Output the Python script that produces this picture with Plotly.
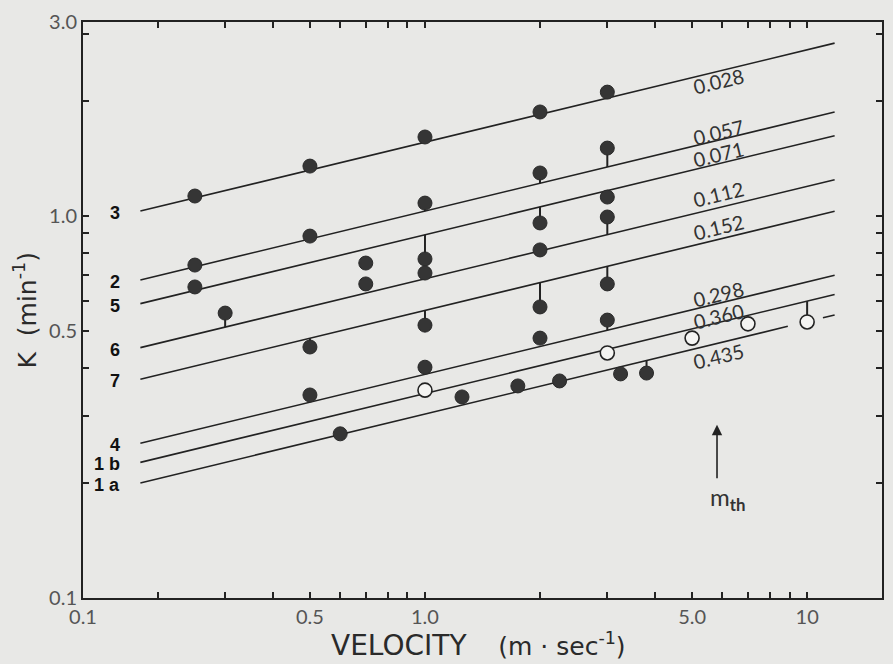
import math
import plotly.graph_objects as go

# ---------------- data ----------------
line_names = ["3", "2", "5", "6", "7", "4", "1 b", "1 a"]
line_m_labels = ["0.028", "0.057", "0.071", "0.112", "0.152", "0.298", "0.360", "0.435"]
line_k_at_1 = [1.56, 1.03, 0.893, 0.685, 0.566, 0.385, 0.343, 0.303]   # K at v = 1 m/s
line_slope = 0.242
line_v_start = 0.18
line_v_end = 11.8
line_1a_gap = [8.9, 11.0]
label_v = 5.85
label_yshift = [-10, 8, 10, 14, 13, 9, 7, -13]

filled_v = [0.25, 0.25, 0.25, 0.3, 0.5, 0.5, 0.5, 0.5, 0.6, 0.7, 0.7,
            1.0, 1.0, 1.0, 1.0, 1.0, 1.0, 1.25, 1.75,
            2.0, 2.0, 2.0, 2.0, 2.0, 2.0, 2.25,
            3.0, 3.0, 3.0, 3.0, 3.0, 3.0, 3.25, 3.8]
filled_k = [1.128, 0.744, 0.652, 0.557, 1.351, 0.886, 0.454, 0.340, 0.269, 0.753, 0.664,
            1.61, 1.081, 0.772, 0.709, 0.518, 0.402, 0.336, 0.359,
            1.872, 1.296, 0.959, 0.815, 0.578, 0.479, 0.370,
            2.11, 1.506, 1.121, 0.994, 0.664, 0.534, 0.386, 0.388]

open_v = [1.0, 3.0, 5.0, 7.0, 10.0]
open_k = [0.350, 0.438, 0.479, 0.522, 0.528]

tick_v = [0.3, 2.0, 1.0, 2.0, 1.0, 2.0, 1.0, 0.5, 3.0, 3.0, 3.0, 3.0, 3.8, 10.0]
tick_k = [0.557, 1.296, 1.081, 0.959, 0.772, 0.578, 0.518, 0.454, 1.506, 0.994, 0.664, 0.534, 0.388, 0.528]
tick_line = [3, 1, 1, 2, 2, 4, 4, 4, 1, 3, 4, 5, 7, 6]

x_range_v = [0.1274, 15.7]
y_range_k = [0.1, 3.22]
x_minor = [0.2, 0.3, 0.4, 0.6, 0.7, 0.8, 0.9, 2, 3, 4, 6, 7, 8, 9]
x_major = [x_range_v[0], 0.5, 1.0, 5.0, 10.0]
x_major_text = ["0.1", "0.5", "1.0", "5.0", "10"]
y_minor = [0.2, 0.3, 0.4, 0.6, 0.7, 0.8, 0.9, 2, 3]
y_major = [y_range_k[0], 0.5, 1.0, y_range_k[1]]
y_major_text = ["0.1", "0.5", "1.0", "3.0"]

arrow_v = 5.81
arrow_k = 0.284

# ---------------- figure ----------------
BG = "#e8e8e6"
INK = "#222222"
fig = go.Figure()


def line_k(i, v):
    return line_k_at_1[i] * v ** line_slope


for i, name in enumerate(line_names):
    if i == 7:
        segs = [(line_v_start, line_1a_gap[0]), (line_1a_gap[1], line_v_end)]
    else:
        segs = [(line_v_start, line_v_end)]
    xs, ys = [], []
    for a, b in segs:
        xs += [a, b, None]
        ys += [line_k(i, a), line_k(i, b), None]
    fig.add_trace(go.Scatter(x=xs, y=ys, mode="lines",
                             line=dict(color=INK, width=1.6),
                             hoverinfo="skip", showlegend=False))

# residual ticks
tx, ty = [], []
for v, k, li in zip(tick_v, tick_k, tick_line):
    tx += [v, v, None]
    ty += [k, line_k(li, v), None]
fig.add_trace(go.Scatter(x=tx, y=ty, mode="lines",
                         line=dict(color=INK, width=2),
                         hoverinfo="skip", showlegend=False))

fig.add_trace(go.Scatter(x=filled_v, y=filled_k, mode="markers",
                         marker=dict(size=14, color="#353535",
                                     line=dict(color="#2a2a2a", width=1)),
                         showlegend=False))
fig.add_trace(go.Scatter(x=open_v, y=open_k, mode="markers",
                         marker=dict(size=14, color="#f4f4f2",
                                     line=dict(color=INK, width=1.6)),
                         showlegend=False))

angle = -math.degrees(math.atan(line_slope))
for i, name in enumerate(line_names):
    fig.add_annotation(x=math.log10(line_v_start), y=math.log10(line_k(i, line_v_start)),
                       text="<b>%s</b>" % name, showarrow=False,
                       xanchor="right", yanchor="middle", xshift=-18, yshift=-2,
                       font=dict(family="Liberation Sans", size=18, color="#111"))
    fig.add_annotation(x=math.log10(label_v), y=math.log10(line_k(i, label_v)),
                       text=line_m_labels[i], showarrow=False, textangle=angle,
                       xanchor="center", yanchor="middle", yshift=label_yshift[i],
                       font=dict(family="Lato", size=20, color="#333"))

# m_th arrow
fig.add_annotation(x=math.log10(arrow_v), y=math.log10(arrow_k), ax=0, ay=55,
                   text="", showarrow=True, arrowhead=2, arrowsize=1.3,
                   arrowwidth=1.6, arrowcolor=INK)
fig.add_annotation(x=math.log10(arrow_v), y=math.log10(arrow_k), text="m<sub><b>th</b></sub>",
                   showarrow=False, xshift=10, yshift=-74,
                   font=dict(family="Lato", size=24, color="#333"))

# axis titles
fig.add_annotation(xref="paper", yref="paper", x=0.495, y=-0.082,
                   text="<span style='font-size:28px'>VELOCITY</span>    (m \u00b7 sec<sup>-1</sup>)",
                   showarrow=False, xanchor="center", yanchor="middle",
                   font=dict(family="DejaVu Sans", size=25, color="#2a2a2a"))
fig.add_annotation(xref="paper", yref="paper", x=-0.072, y=0.5,
                   text="K  (min<sup>-1</sup>)", showarrow=False, textangle=-90,
                   xanchor="center", yanchor="middle",
                   font=dict(family="DejaVu Sans", size=25, color="#2a2a2a"))

axis_common = dict(type="log", showgrid=False, zeroline=False, showline=True,
                   linecolor=INK, linewidth=2, mirror="ticks", ticks="inside",
                   ticklen=6, tickwidth=1.5, tickcolor=INK, tickmode="array",
                   automargin=False,
                   tickfont=dict(family="Lato", size=20, color="#555"))
minor_common = dict(ticks="inside", ticklen=6, tickwidth=1.5, tickcolor=INK,
                    tickmode="array", showgrid=False)
fig.update_xaxes(range=[math.log10(x_range_v[0]), math.log10(x_range_v[1])],
                 tickvals=x_major, ticktext=x_major_text,
                 minor=dict(tickvals=x_minor, **minor_common), **axis_common)
fig.update_yaxes(range=[math.log10(y_range_k[0]), math.log10(y_range_k[1])],
                 tickvals=y_major, ticktext=y_major_text,
                 minor=dict(tickvals=y_minor, **minor_common), **axis_common)

fig.update_layout(width=893, height=664, paper_bgcolor=BG, plot_bgcolor=BG,
                  margin=dict(l=83, r=11, t=22, b=66, autoexpand=False),
                  showlegend=False)

fig.write_html("out.html", config={"displayModeBar": False},
               post_script="document.body.style.margin='0';"
                           "document.body.style.background='%s';"
                           "document.body.style.overflow='hidden';" % BG)
